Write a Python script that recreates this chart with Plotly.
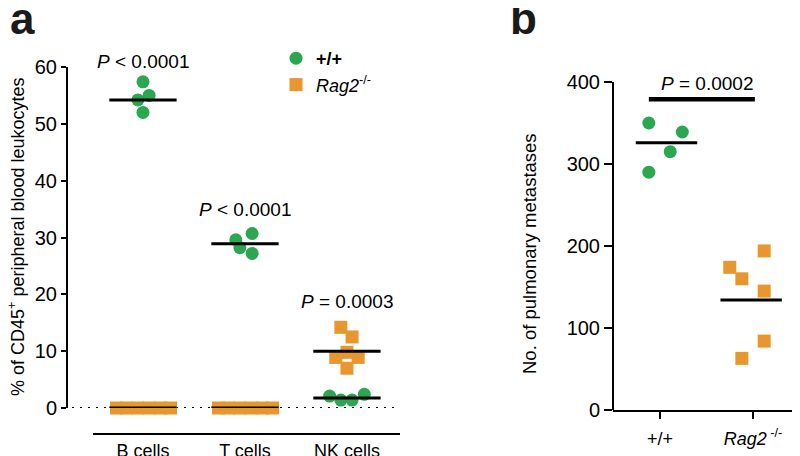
import plotly.graph_objects as go

W, H = 800, 456
OFF = 8  # page body margin: the figure is drawn 8 px right/down in the window
def px(x): return (x - OFF) / W
def py(y): return 1 - (y - OFF) / H

GREEN = "#2BA651"
ORANGE = "#E8962E"
FONT = "Liberation Sans, Arial, sans-serif"

# ---------------- Panel a data ----------------
cell_types = ["B cells", "T cells", "NK cells"]
wt_B = [57.4, 55.0, 54.2, 52.0]
wt_B_dx = [0.0, 0.06, -0.05, 0.0]
wt_T = [30.7, 29.6, 28.2, 27.2]
wt_T_dx = [0.07, -0.09, -0.05, 0.07]
wt_NK = [2.1, 1.4, 1.4, 2.4]
wt_NK_dx = [-0.17, -0.06, 0.05, 0.17]
ko_B = [0, 0, 0, 0, 0, 0]
ko_B_dx = [-0.26, -0.16, -0.05, 0.06, 0.17, 0.27]
ko_T = [0, 0, 0, 0, 0, 0]
ko_T_dx = [-0.26, -0.16, -0.05, 0.06, 0.17, 0.27]
ko_NK = [14.2, 12.5, 9.8, 8.9, 8.9, 7.0]
ko_NK_dx = [-0.06, 0.05, 0.0, -0.11, 0.11, 0.0]
wt_means_a = [54.2, 28.9, 1.75]
ko_means_a = [0.0, 0.0, 10.0]
pvals_a = ["<i>P</i> < 0.0001", "<i>P</i> < 0.0001", "<i>P</i> = 0.0003"]
pval_y_a = [61.0, 34.9, 18.8]
yticks_a = [0, 10, 20, 30, 40, 50, 60]

# ---------------- Panel b data ----------------
genotypes = ["+/+", "<i>Rag2</i><sup> -/-</sup>"]
wt_mets = [350, 339, 315, 290]
wt_mets_dx = [-0.12, 0.24, 0.11, -0.12]
ko_mets = [194, 174, 160, 145, 84, 63]
ko_mets_dx = [0.12, -0.25, -0.12, 0.12, 0.12, -0.12]
means_b = [326, 134]
means_b_dx = [0.07, -0.02]
pval_b = "<i>P</i> = 0.0002"
pval_b_y = 398
bracket_b_y = 379
yticks_b = [0, 100, 200, 300, 400]

# axis geometry (window pixels)
YA_TOP, YA_BOT = 67, 408       # panel a: 60 -> 0
YA_MAX = 60
YB_TOP, YB_BOT = 82, 410       # panel b: 400 -> 0

fig = go.Figure()

wt_groups = [(wt_B, wt_B_dx), (wt_T, wt_T_dx), (wt_NK, wt_NK_dx)]
ko_groups = [(ko_B, ko_B_dx), (ko_T, ko_T_dx), (ko_NK, ko_NK_dx)]

for i, (vals, dx) in enumerate(ko_groups):
    fig.add_trace(go.Scatter(
        x=[i + d for d in dx], y=vals, mode="markers",
        marker=dict(symbol="square", size=13, color=ORANGE),
        showlegend=False, cliponaxis=False, xaxis="x", yaxis="y"))
for i, (vals, dx) in enumerate(wt_groups):
    fig.add_trace(go.Scatter(
        x=[i + d for d in dx], y=vals, mode="markers",
        marker=dict(symbol="circle", size=13, color=GREEN),
        name="<b>+/+</b>", showlegend=(i == 0), legendrank=1,
        cliponaxis=False, xaxis="x", yaxis="y"))
fig.add_trace(go.Scatter(
    x=[None], y=[None], mode="markers",
    marker=dict(symbol="square", size=13, color=ORANGE),
    name="<i>Rag2</i><sup>-/-</sup>", showlegend=True, legendrank=2,
    xaxis="x", yaxis="y"))

for i in range(3):
    for m in (wt_means_a[i], ko_means_a[i]):
        fig.add_trace(go.Scatter(
            x=[i - 0.33, i + 0.33], y=[m, m], mode="lines",
            line=dict(color="black", width=3), showlegend=False,
            cliponaxis=False, xaxis="x", yaxis="y"))

fig.add_trace(go.Scatter(
    x=[0 + d for d in wt_mets_dx], y=wt_mets, mode="markers",
    marker=dict(symbol="circle", size=13, color=GREEN), showlegend=False,
    cliponaxis=False, xaxis="x2", yaxis="y2"))
fig.add_trace(go.Scatter(
    x=[1 + d for d in ko_mets_dx], y=ko_mets, mode="markers",
    marker=dict(symbol="square", size=13, color=ORANGE), showlegend=False,
    cliponaxis=False, xaxis="x2", yaxis="y2"))
for i, m in enumerate(means_b):
    c = i + means_b_dx[i]
    fig.add_trace(go.Scatter(
        x=[c - 0.33, c + 0.33], y=[m, m], mode="lines",
        line=dict(color="black", width=3), showlegend=False,
        cliponaxis=False, xaxis="x2", yaxis="y2"))
fig.add_trace(go.Scatter(
    x=[-0.12, 1.02], y=[bracket_b_y, bracket_b_y], mode="lines",
    line=dict(color="black", width=4.5), showlegend=False,
    cliponaxis=False, xaxis="x2", yaxis="y2"))

fig.add_shape(type="line", xref="paper", yref="y", x0=px(72), x1=px(400),
              y0=0, y1=0, line=dict(color="black", width=2.2, dash="2px,6px"),
              layer="below")

def a_paper_y(v):
    return py(YA_BOT - (YA_BOT - YA_TOP) * v / YA_MAX)

annotations = []
for i in range(3):
    annotations.append(dict(x=i, y=a_paper_y(pval_y_a[i]), xref="x", yref="paper",
                            text=pvals_a[i], showarrow=False,
                            xanchor="center", yanchor="middle",
                            font=dict(size=19, color="black")))
annotations.append(dict(x=0.5, y=pval_b_y, xref="x2", yref="y2", text=pval_b,
                        showarrow=False, xanchor="center", yanchor="middle",
                        font=dict(size=19, color="black")))
annotations.append(dict(x=px(17), y=py(237), xref="paper", yref="paper",
                        text="% of CD45<sup>+</sup> peripheral blood leukocytes",
                        textangle=-90, showarrow=False,
                        xanchor="center", yanchor="middle",
                        font=dict(size=18, color="black")))
annotations.append(dict(x=px(529), y=py(254), xref="paper", yref="paper",
                        text="No. of pulmonary metastases",
                        textangle=-90, showarrow=False,
                        xanchor="center", yanchor="middle",
                        font=dict(size=18.5, color="black")))
annotations.append(dict(x=px(8), y=py(-8), xref="paper", yref="paper",
                        text="<b>a</b>", xanchor="left", yanchor="top",
                        showarrow=False, font=dict(size=44, color="#1a1a1a")))
annotations.append(dict(x=px(508), y=py(-8), xref="paper", yref="paper",
                        text="<b>b</b>", xanchor="left", yanchor="top",
                        showarrow=False, font=dict(size=44, color="#1a1a1a")))

fig.update_layout(
    width=W, height=H, margin=dict(l=0, r=0, t=0, b=0, autoexpand=False),
    paper_bgcolor="white", plot_bgcolor="white",
    font=dict(family=FONT, color="black", size=17),
    showlegend=True,
    legend=dict(x=px(276), y=py(40), xanchor="left", yanchor="top",
                font=dict(size=18), bgcolor="rgba(0,0,0,0)",
                itemwidth=30, tracegroupgap=0),
    xaxis=dict(domain=[px(93), px(400)], range=[-0.49, 2.52],
               anchor="free", position=py(434),
               tickmode="array", tickvals=[0, 1, 2], ticktext=cell_types,
               showline=True, linecolor="black", linewidth=2,
               ticks="", showgrid=False, zeroline=False,
               tickfont=dict(size=18)),
    yaxis=dict(domain=[py(YA_BOT), py(YA_TOP)], range=[0, YA_MAX],
               anchor="free", position=px(67),
               tickmode="array", tickvals=yticks_a,
               showline=True, linecolor="black", linewidth=2,
               ticks="outside", ticklen=5, tickwidth=2, tickcolor="black",
               showgrid=False, zeroline=False, tickfont=dict(size=20)),
    xaxis2=dict(domain=[px(613), px(800)], range=[-0.505, 1.505],
                anchor="y2", tickmode="array", tickvals=[0, 1],
                ticktext=genotypes,
                showline=True, linecolor="black", linewidth=2,
                ticks="outside", ticklen=7, tickwidth=2, tickcolor="black",
                ticklabelstandoff=4,
                showgrid=False, zeroline=False, tickfont=dict(size=18)),
    yaxis2=dict(domain=[py(YB_BOT), py(YB_TOP)], range=[0, 400],
                anchor="free", position=px(613),
                tickmode="array", tickvals=yticks_b,
                ticksuffix="\u2009\u2009",
                showline=True, linecolor="black", linewidth=2,
                ticks="outside", ticklen=8, tickwidth=2, tickcolor="black",
                showgrid=False, zeroline=False, tickfont=dict(size=20)),
    annotations=annotations,
)

fig.write_html("out.html")
